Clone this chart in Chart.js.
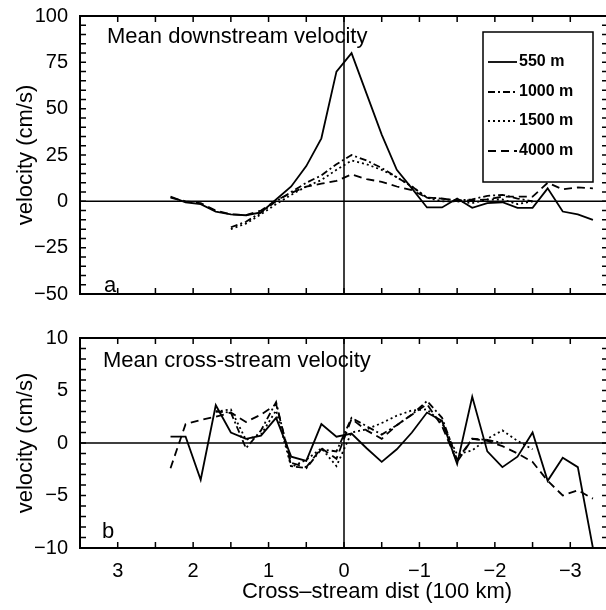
<!DOCTYPE html>
<html>
<head>
<meta charset="utf-8">
<script src="https://cdn.jsdelivr.net/npm/chart.js@4.4.1/dist/chart.umd.min.js"></script>
<style>
  html, body { margin: 0; padding: 0; background: #fff; overflow: hidden; }
  #wrap { position: relative; width: 606px; height: 610px; overflow: hidden; }
  canvas { position: absolute; left: 0; }
  #topChart { top: 0; }
  #bottomChart { top: 310px; }
</style>
</head>
<body>
<div id="wrap">
  <canvas id="topChart" width="612" height="310"></canvas>
  <canvas id="bottomChart" width="612" height="300"></canvas>
</div>
<script>
// cross-stream distance of each station (100 km)
const dist = [2.3, 2.1, 1.9, 1.7, 1.5, 1.3, 1.1, 0.9, 0.7, 0.5, 0.3, 0.1, -0.1, -0.3, -0.5,
              -0.7, -0.9, -1.1, -1.3, -1.5, -1.7, -1.9, -2.1, -2.3, -2.5, -2.7, -2.9, -3.1, -3.3];
const distTicks = [3, 2, 1, 0, -1, -2, -3];
const depths = ['550 m', '1000 m', '1500 m', '4000 m'];

// mean downstream velocity (cm/s)
const down550  = [2.5, -0.5, -1.5, -5.5, -7, -7.5, -6, 1, 8, 19, 34, 70, 80, 58, 36,
                  17, 7, -3.3, -3.3, 1.5, -3.5, -1, -0.5, -3.5, -3.5, 7, -5.5, -7, -10];
const down1000 = [null, null, null, null, -14, -11, -6, 0, 5, 10, 14, 20, 25, 22, 18,
                  13, 8, 2, 1.5, 0.5, 1, 3, 3.5, 1.5, 0, null, null, null, null];
const down1500 = [null, null, null, null, -15, -12, -7, -1.5, 3.5, 8, 11.5, 17, 22, 20, 17,
                  13, 8, 2, 0, 0, -1, 1, 1, -1.5, 0, null, null, null, null];
const down4000 = [2, 0, -1, -5, -7, -7.5, -5, 0.5, 4.5, 8, 9.5, 11, 14.5, 12, 10.5,
                  8, 6, 2, 1.5, 0.5, 0.5, 1, 2.5, 2.5, 2.5, 10, 6.5, 7.5, 7];

// mean cross-stream velocity (cm/s)
const cross550  = [0.6, 0.6, -3.5, 3.6, 1, 0.4, 0.7, 2.4, -1.3, -1.7, 1.8, 0.6, 0.9, -0.5, -1.8,
                   -0.6, 1.0, 2.9, 2.1, -2, 4.4, -0.8, -2.3, -1.3, 1.0, -3.6, -1.4, -2.3, -10];
const cross1000 = [null, null, null, 3.0, 2.9, -0.5, 1.2, 3.9, -2.2, -2.4, -0.6, -0.8, 2.4, 1.6, 0.8,
                   1.7, 2.7, 4.0, 2.4, -1.6, 0.4, 0.3, 0, null, null, null, null, null, null];
const cross1500 = [null, null, null, 3.0, 3.2, 0.3, 0.8, 3.1, -2.3, -1.6, -0.5, -2.2, 1.0, 1.3, 1.9,
                   2.6, 3.1, 3.2, 1.9, -1.1, -0.7, 0.4, 1.2, 0.2, -0.6, null, null, null, null];
const cross4000 = [-2.4, 1.8, 2.2, 2.5, 2.9, 2.0, 2.7, 3.7, -1.9, -2.3, -0.5, -1.5, 2.3, 1.2, 0.4,
                   1.7, 2.7, 3.7, 1.6, -1.8, 0.4, 0.2, -0.3, -1.0, -1.8, -3.6, -5.0, -4.5, -5.3];

const FONT = "'Liberation Sans', Arial, Helvetica, sans-serif";
Chart.defaults.font.family = FONT;
Chart.defaults.color = '#000';

const styles = [
  { borderDash: [] },
  { borderDash: [7, 3, 2, 3] },
  { borderDash: [2, 3] },
  { borderDash: [8, 5] }
];

function minus(v) {
  return v < 0 ? '\u2212' + Math.abs(v) : String(v);
}

function makeSets(series) {
  return series.map((vals, i) => ({
    label: depths[i],
    data: vals.map((v, k) => ({ x: dist[k], y: v })),
    borderColor: '#000',
    borderWidth: 1.8,
    borderDash: styles[i].borderDash,
    pointRadius: 0,
    tension: 0,
    spanGaps: false
  }));
}

// axes frame, inward ticks, zero lines, panel texts and the legend box
const decor = {
  id: 'decor',
  beforeDatasetsDraw(chart) {
    const { ctx, chartArea: a, scales: { x, y } } = chart;
    ctx.save();
    ctx.strokeStyle = '#000';
    ctx.lineWidth = 1.5;
    ctx.beginPath();
    const y0 = y.getPixelForValue(0), x0 = x.getPixelForValue(0);
    ctx.moveTo(a.left, y0); ctx.lineTo(a.right, y0);
    ctx.moveTo(x0, a.top); ctx.lineTo(x0, a.bottom);
    ctx.stroke();
    ctx.restore();
  },
  afterDraw(chart, args, o) {
    const { ctx, chartArea: a, scales: { x, y } } = chart;
    ctx.save();
    ctx.strokeStyle = '#000';
    ctx.lineWidth = 2;
    ctx.strokeRect(a.left, a.top, a.right - a.left, a.bottom - a.top);
    ctx.lineWidth = 1.5;
    ctx.beginPath();
    for (let k = -7; k <= 7; k++) {
      const px = x.getPixelForValue(k * 0.5);
      ctx.moveTo(px, a.top); ctx.lineTo(px, a.top + 6);
      ctx.moveTo(px, a.bottom); ctx.lineTo(px, a.bottom - 6);
    }
    for (let v = o.yMin; v <= o.yMax; v += o.yMinor) {
      const py = y.getPixelForValue(v);
      ctx.moveTo(a.left, py); ctx.lineTo(a.left + 6, py);
      ctx.moveTo(a.right, py); ctx.lineTo(a.right - 6, py);
    }
    ctx.stroke();

    ctx.fillStyle = '#000';
    ctx.font = '22px ' + FONT;
    ctx.textAlign = 'left';
    ctx.textBaseline = 'alphabetic';
    ctx.fillText(o.title, o.titleX, o.titleY);
    ctx.textBaseline = 'middle';
    ctx.fillText(o.panel, o.panelX, o.panelY);

    if (o.xTitle) {
      ctx.textAlign = 'center';
      ctx.fillText(o.xTitle, o.xTitleX, o.xTitleY);
    }

    if (o.legend) {
      const L = o.legend;
      ctx.lineWidth = 1.5;
      ctx.strokeRect(L.left, L.top, L.width, L.height);
      ctx.font = 'bold 16px ' + FONT;
      ctx.textAlign = 'left';
      chart.data.datasets.forEach((ds, i) => {
        const ry = L.rows[i];
        ctx.beginPath();
        ctx.setLineDash(ds.borderDash);
        ctx.lineWidth = 1.8;
        ctx.moveTo(L.left + 5, ry); ctx.lineTo(L.left + 34, ry);
        ctx.stroke();
        ctx.setLineDash([]);
        ctx.fillText(ds.label, L.left + 36, ry);
      });
    }
    ctx.restore();
  }
};

function xScale(showLabels) {
  return {
    type: 'linear', min: -3.5, max: 3.5, reverse: true,
    grid: { display: false }, border: { display: false },
    ticks: {
      display: showLabels, autoSkip: false, maxRotation: 0, padding: 3,
      font: { size: 20 },
      callback: v => minus(v)
    },
    afterBuildTicks: s => { s.ticks = distTicks.map(v => ({ value: v })); },
    afterFit: s => { s.height = showLabels ? 62 : 0; }
  };
}

function yScale(min, max, step) {
  return {
    min: min, max: max,
    grid: { display: false }, border: { display: false },
    ticks: { stepSize: step, padding: 4, font: { size: 20 }, callback: v => minus(v) },
    title: { display: true, text: 'velocity (cm/s)', font: { size: 22 }, padding: { top: 13, bottom: 0 } },
    afterFit: s => { s.width = 80; }
  };
}

new Chart(document.getElementById('topChart'), {
  type: 'line',
  data: { datasets: makeSets([down550, down1000, down1500, down4000]) },
  options: {
    responsive: false, animation: false,
    layout: { padding: { top: 16, right: 4, bottom: 8, left: 0 } },
    scales: { x: xScale(false), y: yScale(-50, 100, 25) },
    plugins: {
      legend: { display: false }, tooltip: { enabled: false },
      decor: {
        yMin: -50, yMax: 100, yMinor: 5,
        title: 'Mean downstream velocity', titleX: 107, titleY: 43,
        panel: 'a', panelX: 104, panelY: 286,
        legend: { left: 483, top: 32, width: 110, height: 150, rows: [62, 92, 121, 151] }
      }
    }
  },
  plugins: [decor]
});

new Chart(document.getElementById('bottomChart'), {
  type: 'line',
  data: { datasets: makeSets([cross550, cross1000, cross1500, cross4000]) },
  options: {
    responsive: false, animation: false,
    layout: { padding: { top: 28, right: 4, bottom: 0, left: 0 } },
    scales: { x: xScale(true), y: yScale(-10, 10, 5) },
    plugins: {
      legend: { display: false }, tooltip: { enabled: false },
      decor: {
        yMin: -10, yMax: 10, yMinor: 1,
        title: 'Mean cross-stream velocity', titleX: 103, titleY: 57,
        panel: 'b', panelX: 102, panelY: 222,
        xTitle: 'Cross\u2013stream dist (100 km)', xTitleX: 377, xTitleY: 282
      }
    }
  },
  plugins: [decor]
});
</script>
</body>
</html>
